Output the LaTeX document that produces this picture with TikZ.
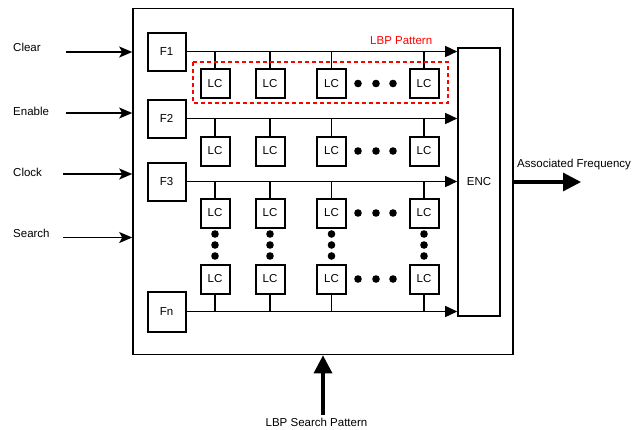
\documentclass[tikz,border=0pt]{standalone}
\usepackage{fontspec}
\setmainfont{Liberation Sans}
\usepackage{tikz}
\usetikzlibrary{positioning}
\usetikzlibrary{arrows.meta}

\begin{document}
\begin{tikzpicture}[x=1pt, y=-1pt, font=\fontsize{11.5}{13}\selectfont,
    lc/.style={draw, line width=2pt, minimum size=29pt, inner sep=0pt},
    ff/.style={draw, line width=2pt, minimum width=38pt, minimum height=38pt, inner sep=0pt},
    wire/.style={line width=1.5pt},
    bus/.style={line width=1.5pt, -{Triangle[length=12pt, width=11pt]}},
    inarr/.style={line width=1.5pt, -{Stealth[length=13pt, width=11pt, inset=3pt]}},
    bigarr/.style={line width=3.2pt, -{Triangle[length=18pt, width=18pt]}},
    patt/.style={red, line width=1.6pt, dash pattern=on 4pt off 3pt}]

    \useasboundingbox (0,0) rectangle (644,429);

    \node[draw, line width=1.6pt, minimum width=380pt, minimum height=346pt] (chip) at (323,181.5) {};

    \node[ff] (f1) at (166.5,51.5) {F1};
    \node[ff] (f2) at (166.5,118.5) {F2};
    \node[ff] (f3) at (166.5,181.5) {F3};
    \node[ff, minimum height=40pt] (fn) at (166.5,311.5) {Fn};

    \node[draw, line width=1.6pt, minimum width=42pt, minimum height=268pt] (enc) at (479,182) {ENC};

    \foreach \f in {f1,f2,f3,fn}
        \draw[bus] (\f.east) -- (\f.east -| enc.west);

    \foreach \x [count=\c] in {215,270,331.5,424} {
        \foreach \y/\f [count=\r] in {83.5/f1,151/f2,213/f3} {
            \node[lc] (lc\r\c) at (\x,\y) {LC};
            \draw[wire] (lc\r\c.north) -- (lc\r\c.north |- \f.east);
        }
        \node[lc] (lc4\c) at (\x,279) {LC};
        \draw[wire] (lc4\c.south) -- (lc4\c.south |- fn.east);
        \foreach \d in {234,245,256}
            \fill (\x,\d) circle (3.8pt);
    }

    \foreach \y in {83.5,151,213,279}
        \foreach \d in {358,376,393}
            \fill (\d,\y) circle (3.8pt);

    \draw[patt] (193,62) rectangle (448,103);
    \node[red, anchor=base west, inner sep=0pt] (lbp) at (370,44) {LBP Pattern};

    \foreach \t/\ty/\ax/\ay [count=\i] in {Clear/51/66/52, Enable/115/66/113, Clock/176/63/174, Search/237/63/237.5} {
        \node[anchor=base west, inner sep=0pt] (in\i) at (13,\ty) {\t};
        \coordinate (s\i) at (\ax,\ay);
        \draw[inarr] (s\i) -- (s\i -| chip.west);
    }

    \coordinate (out) at (581,182);
    \draw[bigarr] (out -| chip.east) -- (out);
    \node[anchor=base west, inner sep=0pt] (freq) at (517,167) {Associated Frequency};

    \coordinate (srch) at (323,415);
    \draw[bigarr] (srch) -- (srch |- chip.south);
    \node[anchor=base, inner sep=0pt] (pat) at (316.5,426) {LBP Search Pattern};

\end{tikzpicture}
\end{document}
